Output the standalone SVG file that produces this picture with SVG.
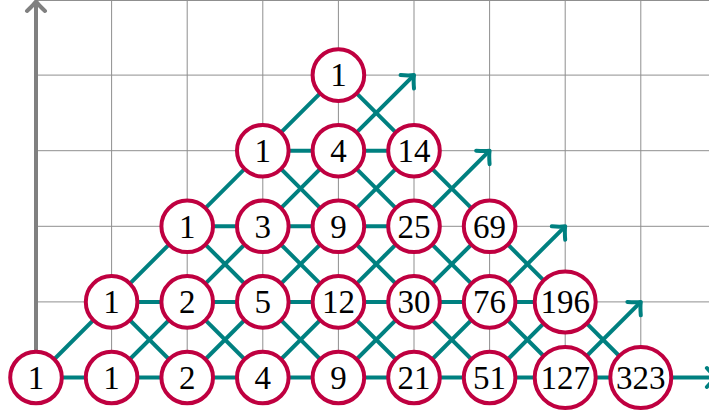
<svg xmlns="http://www.w3.org/2000/svg" width="709" height="415" viewBox="0 0 709 415">
<style>
.grid line{stroke:#8f8f8f;stroke-width:1}
.conn line{stroke:#008080;stroke-width:4;stroke-linecap:butt}
.arr{marker-end:url(#tealArrow)}
.node circle{fill:#fff;stroke:#BF0040;stroke-width:4}
.node text{font-family:"Liberation Serif","DejaVu Serif",serif;font-size:33px;fill:#000;text-anchor:middle}
</style>
<defs>
<marker id="tealArrow" markerUnits="userSpaceOnUse" viewBox="-13 -13 16 26" markerWidth="16" markerHeight="26" refX="0" refY="0" orient="auto" overflow="visible">
<path d="M-9.5,-9.5 Q-4,-3 0,0 Q-4,3 -9.5,9.5" fill="none" stroke="#008080" stroke-width="4" stroke-linecap="round" stroke-linejoin="round"/>
</marker>
<marker id="grayArrow" markerUnits="userSpaceOnUse" viewBox="-13 -13 16 26" markerWidth="16" markerHeight="26" refX="0" refY="0" orient="auto" overflow="visible">
<path d="M-9.5,-9 Q-4,-3 0,0 Q-4,3 -9.5,9" fill="none" stroke="#808080" stroke-width="4" stroke-linecap="round" stroke-linejoin="round"/>
</marker>
</defs>
<rect width="709" height="415" fill="#fff"/>
<g id="grid" class="grid">
<line x1="111.6" y1="0" x2="111.6" y2="377.5"/>
<line x1="187.2" y1="0" x2="187.2" y2="377.5"/>
<line x1="262.8" y1="0" x2="262.8" y2="377.5"/>
<line x1="338.4" y1="0" x2="338.4" y2="377.5"/>
<line x1="414" y1="0" x2="414" y2="377.5"/>
<line x1="489.6" y1="0" x2="489.6" y2="377.5"/>
<line x1="565.2" y1="0" x2="565.2" y2="377.5"/>
<line x1="640.8" y1="0" x2="640.8" y2="377.5"/>
<line x1="36" y1="0.5" x2="709" y2="0.5"/>
<line x1="36" y1="75.1" x2="709" y2="75.1"/>
<line x1="36" y1="150.7" x2="709" y2="150.7"/>
<line x1="36" y1="226.3" x2="709" y2="226.3"/>
<line x1="36" y1="301.9" x2="709" y2="301.9"/>
<line x1="36" y1="377.5" x2="709" y2="377.5"/>
</g>
<g id="axis">
<line x1="36" y1="377.5" x2="36" y2="1.5" stroke="#808080" stroke-width="4" marker-end="url(#grayArrow)"/>
</g>
<g id="connectors" class="conn">
<!-- horizontal -->
<line x1="36" y1="377.5" x2="111.6" y2="377.5"/>
<line x1="111.6" y1="377.5" x2="187.2" y2="377.5"/>
<line x1="187.2" y1="377.5" x2="262.8" y2="377.5"/>
<line x1="262.8" y1="377.5" x2="338.4" y2="377.5"/>
<line x1="338.4" y1="377.5" x2="414" y2="377.5"/>
<line x1="414" y1="377.5" x2="489.6" y2="377.5"/>
<line x1="489.6" y1="377.5" x2="565.2" y2="377.5"/>
<line x1="565.2" y1="377.5" x2="640.8" y2="377.5"/>
<line x1="111.6" y1="301.9" x2="187.2" y2="301.9"/>
<line x1="187.2" y1="301.9" x2="262.8" y2="301.9"/>
<line x1="262.8" y1="301.9" x2="338.4" y2="301.9"/>
<line x1="338.4" y1="301.9" x2="414" y2="301.9"/>
<line x1="414" y1="301.9" x2="489.6" y2="301.9"/>
<line x1="489.6" y1="301.9" x2="565.2" y2="301.9"/>
<line x1="187.2" y1="226.3" x2="262.8" y2="226.3"/>
<line x1="262.8" y1="226.3" x2="338.4" y2="226.3"/>
<line x1="338.4" y1="226.3" x2="414" y2="226.3"/>
<line x1="262.8" y1="150.7" x2="338.4" y2="150.7"/>
<line x1="338.4" y1="150.7" x2="414" y2="150.7"/>
<!-- up-right -->
<line x1="36" y1="377.5" x2="111.6" y2="301.9"/>
<line x1="111.6" y1="377.5" x2="187.2" y2="301.9"/>
<line x1="187.2" y1="377.5" x2="262.8" y2="301.9"/>
<line x1="262.8" y1="377.5" x2="338.4" y2="301.9"/>
<line x1="338.4" y1="377.5" x2="414" y2="301.9"/>
<line x1="414" y1="377.5" x2="489.6" y2="301.9"/>
<line x1="489.6" y1="377.5" x2="565.2" y2="301.9"/>
<line x1="111.6" y1="301.9" x2="187.2" y2="226.3"/>
<line x1="187.2" y1="301.9" x2="262.8" y2="226.3"/>
<line x1="262.8" y1="301.9" x2="338.4" y2="226.3"/>
<line x1="338.4" y1="301.9" x2="414" y2="226.3"/>
<line x1="414" y1="301.9" x2="489.6" y2="226.3"/>
<line x1="187.2" y1="226.3" x2="262.8" y2="150.7"/>
<line x1="262.8" y1="226.3" x2="338.4" y2="150.7"/>
<line x1="338.4" y1="226.3" x2="414" y2="150.7"/>
<line x1="262.8" y1="150.7" x2="338.4" y2="75.1"/>
<!-- down-right -->
<line x1="111.6" y1="301.9" x2="187.2" y2="377.5"/>
<line x1="187.2" y1="301.9" x2="262.8" y2="377.5"/>
<line x1="262.8" y1="301.9" x2="338.4" y2="377.5"/>
<line x1="338.4" y1="301.9" x2="414" y2="377.5"/>
<line x1="414" y1="301.9" x2="489.6" y2="377.5"/>
<line x1="489.6" y1="301.9" x2="565.2" y2="377.5"/>
<line x1="565.2" y1="301.9" x2="640.8" y2="377.5"/>
<line x1="187.2" y1="226.3" x2="262.8" y2="301.9"/>
<line x1="262.8" y1="226.3" x2="338.4" y2="301.9"/>
<line x1="338.4" y1="226.3" x2="414" y2="301.9"/>
<line x1="414" y1="226.3" x2="489.6" y2="301.9"/>
<line x1="489.6" y1="226.3" x2="565.2" y2="301.9"/>
<line x1="262.8" y1="150.7" x2="338.4" y2="226.3"/>
<line x1="338.4" y1="150.7" x2="414" y2="226.3"/>
<line x1="414" y1="150.7" x2="489.6" y2="226.3"/>
<line x1="338.4" y1="75.1" x2="414" y2="150.7"/>
<!-- arrows -->
<line class="arr" x1="565.2" y1="377.5" x2="640.8" y2="301.9"/>
<line class="arr" x1="489.6" y1="301.9" x2="565.2" y2="226.3"/>
<line class="arr" x1="414" y1="226.3" x2="489.6" y2="150.7"/>
<line class="arr" x1="338.4" y1="150.7" x2="414" y2="75.1"/>
<line class="arr" x1="640.8" y1="377.5" x2="716.4" y2="377.5"/>
</g>
<g id="nodes">
<g id="n0_0" class="node"><circle cx="36" cy="377.5" r="25.8"/><text x="36" y="388.8">1</text></g>
<g id="n1_0" class="node"><circle cx="111.6" cy="377.5" r="25.8"/><text x="111.6" y="388.8">1</text></g>
<g id="n2_0" class="node"><circle cx="187.2" cy="377.5" r="25.8"/><text x="187.2" y="388.8">2</text></g>
<g id="n3_0" class="node"><circle cx="262.8" cy="377.5" r="25.8"/><text x="262.8" y="388.8">4</text></g>
<g id="n4_0" class="node"><circle cx="338.4" cy="377.5" r="25.8"/><text x="338.4" y="388.8">9</text></g>
<g id="n5_0" class="node"><circle cx="414" cy="377.5" r="25.8"/><text x="414" y="388.8">21</text></g>
<g id="n6_0" class="node"><circle cx="489.6" cy="377.5" r="25.8"/><text x="489.6" y="388.8">51</text></g>
<g id="n7_0" class="node"><circle cx="565.2" cy="377.5" r="30.5"/><text x="565.2" y="388.8">127</text></g>
<g id="n8_0" class="node"><circle cx="640.8" cy="377.5" r="30.5"/><text x="640.8" y="388.8">323</text></g>
<g id="n1_1" class="node"><circle cx="111.6" cy="301.9" r="25.8"/><text x="111.6" y="313.2">1</text></g>
<g id="n2_1" class="node"><circle cx="187.2" cy="301.9" r="25.8"/><text x="187.2" y="313.2">2</text></g>
<g id="n3_1" class="node"><circle cx="262.8" cy="301.9" r="25.8"/><text x="262.8" y="313.2">5</text></g>
<g id="n4_1" class="node"><circle cx="338.4" cy="301.9" r="25.8"/><text x="338.4" y="313.2">12</text></g>
<g id="n5_1" class="node"><circle cx="414" cy="301.9" r="25.8"/><text x="414" y="313.2">30</text></g>
<g id="n6_1" class="node"><circle cx="489.6" cy="301.9" r="25.8"/><text x="489.6" y="313.2">76</text></g>
<g id="n7_1" class="node"><circle cx="565.2" cy="301.9" r="30.5"/><text x="565.2" y="313.2">196</text></g>
<g id="n2_2" class="node"><circle cx="187.2" cy="226.3" r="25.8"/><text x="187.2" y="237.6">1</text></g>
<g id="n3_2" class="node"><circle cx="262.8" cy="226.3" r="25.8"/><text x="262.8" y="237.6">3</text></g>
<g id="n4_2" class="node"><circle cx="338.4" cy="226.3" r="25.8"/><text x="338.4" y="237.6">9</text></g>
<g id="n5_2" class="node"><circle cx="414" cy="226.3" r="25.8"/><text x="414" y="237.6">25</text></g>
<g id="n6_2" class="node"><circle cx="489.6" cy="226.3" r="25.8"/><text x="489.6" y="237.6">69</text></g>
<g id="n3_3" class="node"><circle cx="262.8" cy="150.7" r="25.8"/><text x="262.8" y="162">1</text></g>
<g id="n4_3" class="node"><circle cx="338.4" cy="150.7" r="25.8"/><text x="338.4" y="162">4</text></g>
<g id="n5_3" class="node"><circle cx="414" cy="150.7" r="25.8"/><text x="414" y="162">14</text></g>
<g id="n4_4" class="node"><circle cx="338.4" cy="75.1" r="25.8"/><text x="338.4" y="86.4">1</text></g>
</g>
</svg>
